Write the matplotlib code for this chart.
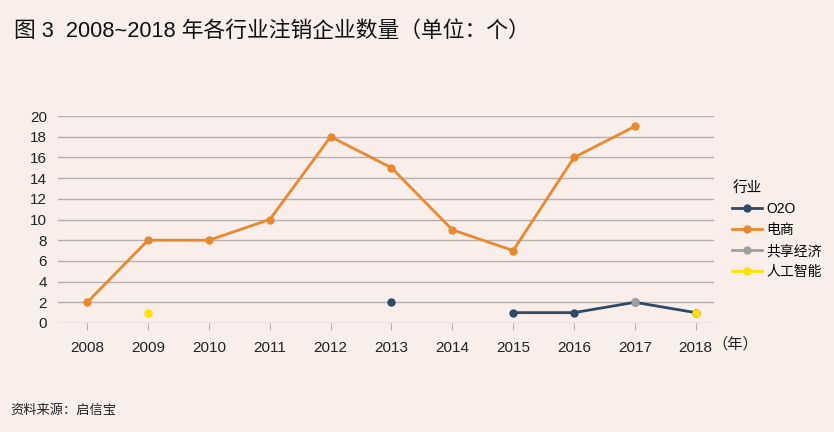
import numpy as np
import matplotlib.pyplot as plt

plt.rcParams['font.family'] = ['Liberation Sans', 'Noto Sans CJK SC']

years = list(range(2008, 2019))
o2o = [np.nan, np.nan, np.nan, np.nan, np.nan, 2, np.nan, 1, 1, 2, 1]
ecommerce = [2, 8, 8, 10, 18, 15, 9, 7, 16, 19, np.nan]
sharing = [np.nan, np.nan, np.nan, np.nan, np.nan, np.nan, np.nan, np.nan, np.nan, 2, np.nan]
ai = [np.nan, 1, np.nan, np.nan, np.nan, np.nan, np.nan, np.nan, np.nan, np.nan, 1]

series = [('O2O', o2o, '#2e4a66'),
          ('电商', ecommerce, '#e8892f'),
          ('共享经济', sharing, '#a0a0a0'),
          ('人工智能', ai, '#ffe000')]

bg = '#f9eeea'
fig = plt.figure(figsize=(8.34, 4.32), dpi=100, facecolor=bg)
ax = fig.add_axes([58 / 834, 1 - 323 / 432, (714 - 58) / 834, (323 - 116) / 432])
ax.set_facecolor(bg)

for name, vals, c in series:
    ax.plot(years, vals, color=c, lw=2, marker='o', ms=5, label=name, clip_on=False, zorder=3)

ax.set_xlim(2007.52, 2018.3)
ax.set_ylim(0, 20)
ax.set_yticks(range(0, 21, 2))
ax.set_xticks(years)
ax.grid(axis='y', color='#b5b0ae', lw=1)
ax.set_axisbelow(True)
for s in ax.spines.values():
    s.set_visible(False)
ax.tick_params(axis='y', length=0, labelsize=11, colors='#222222', pad=8)
ax.tick_params(axis='x', length=5, color='#b5b0ae', labelsize=11, colors='#222222', pad=8)

fig.text(712 / 834, 1 - 344 / 432, '（年）', fontsize=11, color='#222222', va='center')

leg = ax.legend(title='行业', loc='upper left', bbox_to_anchor=(1.009, 0.745),
                frameon=False, fontsize=10, title_fontsize=10.5, handlelength=2.1,
                labelspacing=0.5, handletextpad=0.35, borderaxespad=0.5)
leg._legend_box.align = 'left'

fig.text(14 / 834, 1 - 31 / 432, '图 3  2008~2018 年各行业注销企业数量（单位：个）',
         fontsize=15.7, color='#111111', va='center')
fig.text(10 / 834, 1 - 411 / 432, '资料来源：启信宝', fontsize=9.5, color='#222222', va='center')

fig.savefig('out.png', dpi=100, facecolor=bg)
